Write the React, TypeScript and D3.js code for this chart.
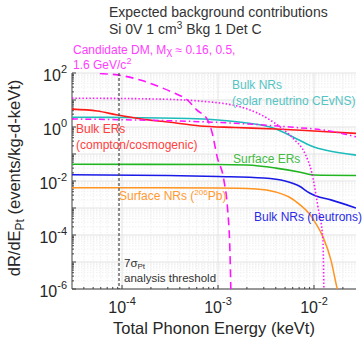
import { useEffect, useRef } from "react";
import * as d3 from "d3";

// energies (keVt) and rates (events/kg-d-keVt)
const bulkERsE = [3e-5, 5.5e-5, 9e-5, 1.6e-4, 3e-4, 6.5e-4, 1.5e-3, 4e-3, 1e-2, 2.74e-2];
const bulkERsR = [4.6, 3.9, 2.78, 1.98, 1.53, 1.09, 0.96, 0.84, 0.71, 0.58];

const solarE = [3e-5, 1e-4, 5e-4, 1e-3, 2e-3, 3.5e-3, 5e-3, 7e-3, 1e-2, 1.3e-2, 2.74e-2];
const solarR = [2.29, 2.26, 2.07, 1.81, 1.41, 1.0, 0.6, 0.33, 0.18, 0.14, 0.091];

const surfERsE = [3e-5, 1e-3, 2e-3, 4e-3, 7e-3, 1e-2, 2.74e-2];
const surfERsR = [0.0416, 0.041, 0.039, 0.03, 0.0216, 0.0166, 0.016];

const neutronE = [3e-5, 3e-4, 1e-3, 3e-3, 5e-3, 7e-3, 9e-3, 1.05e-2, 1.5e-2, 2.74e-2];
const neutronR = [0.0171, 0.016, 0.0147, 0.0129, 0.01, 0.0065, 0.0036, 0.0028, 0.002, 0.001];

const surfNRsE = [3e-5, 1e-3, 2.5e-3, 4e-3, 5.5e-3, 7e-3, 9e-3, 1.05e-2, 1.25e-2, 1.5e-2, 1.75e-2, 2e-2];
const surfNRsR = [0.00565, 0.0055, 0.00505, 0.0039, 0.00255, 0.0014, 6e-4, 2.6e-4, 8e-5, 1.2e-5, 1e-6, 2e-7];

const dmLowE = [4.47e-5, 5.5e-5, 9e-5, 1.55e-4, 2.5e-4, 3.5e-4, 4.8e-4, 6e-4, 7.8e-4, 8.7e-4, 9.8e-4, 1.15e-3, 1.26e-3, 1.33e-3, 1.37e-3];
const dmLowR = [158, 100, 85, 55, 30, 18, 10, 4.3, 1.8, 0.6, 0.078, 0.011, 8.5e-4, 2.8e-5, 3e-7];

const dmMidE = [3e-5, 6.5e-4, 1e-3, 2.5e-3, 5.6e-3, 1.7e-2, 2.74e-2];
const dmMidR = [1.98, 1.57, 1.48, 1.24, 1.0, 0.65, 0.43];

const dmHighE = [3e-5, 1.95e-4, 6.5e-4, 1.9e-3, 3.5e-3, 5.6e-3, 6.3e-3, 8.1e-3, 9.5e-3, 1.1e-2, 1.24e-2, 1.27e-2, 1.3e-2];
const dmHighR = [11.7, 11, 9.1, 5.0, 1.8, 0.5, 0.33, 0.1, 0.02, 1.1e-3, 6.5e-5, 1e-6, 3e-7];

const thresholdE = 9.3e-5;
const xTickExp = [-4, -3, -2];
const yTickExp = [2, 0, -2, -4, -6];

const App = () => {
	const svgRef = useRef<SVGSVGElement>(null);

	useEffect(() => {
		const width = 362;
		const height = 338;
		const left = 72, right = 356, top = 73, bottom = 289;
		const font = "'Liberation Sans', Arial, sans-serif";
		const ink = "#262626";

		const x = d3.scaleLog().domain([3.01e-5, 2.74e-2]).range([left, right]);
		const y = d3.scaleLog().domain([1e-6, 1e2]).range([bottom, top]);
		const isMajor = (d: number) => Math.abs(Math.log10(d) - Math.round(Math.log10(d))) < 1e-6;

		const svg = d3.select(svgRef.current)
			.attr("width", width)
			.attr("height", height)
			.attr("viewBox", [0, 0, width, height].join(" "));
		svg.selectAll("*").remove();

		svg.append("defs").append("clipPath").attr("id", "plot")
			.append("rect").attr("x", left).attr("y", top)
			.attr("width", right - left).attr("height", bottom - top);

		// grid: minor then major
		const grid = svg.append("g");
		const xMinor: number[] = [];
		for (let e = -5; e <= -2; e++) for (let m = 1; m < 10; m++) {
			const v = m * Math.pow(10, e);
			if (v >= 3.01e-5 && v <= 2.74e-2) xMinor.push(v);
		}
		const yMinor: number[] = [];
		for (let e = -6; e < 2; e++) for (let m = 1; m < 10; m++) yMinor.push(m * Math.pow(10, e));
		yMinor.push(100);

		grid.selectAll(".xg").data(xMinor).join("line")
			.attr("x1", (d) => x(d)).attr("x2", (d) => x(d))
			.attr("y1", top).attr("y2", bottom)
			.attr("stroke", (d) => (isMajor(d) ? "#e2e2e2" : "#eeeeee"))
			.attr("stroke-dasharray", (d) => (isMajor(d) ? null : "1.5,1.5"));
		grid.selectAll(".yg").data(yMinor).join("line")
			.attr("y1", (d) => y(d)).attr("y2", (d) => y(d))
			.attr("x1", left).attr("x2", right)
			.attr("stroke", (d) => (isMajor(d) ? "#e2e2e2" : "#eeeeee"))
			.attr("stroke-dasharray", (d) => (isMajor(d) ? null : "1.5,1.5"));

		// axes lines and ticks
		const axes = svg.append("g").attr("stroke", "#404040");
		axes.append("line").attr("x1", left).attr("x2", left).attr("y1", top).attr("y2", bottom);
		axes.append("line").attr("x1", left).attr("x2", right).attr("y1", bottom).attr("y2", bottom);
		axes.selectAll(".xt").data(xMinor).join("line")
			.attr("x1", (d) => x(d)).attr("x2", (d) => x(d))
			.attr("y1", bottom).attr("y2", (d) => bottom - (isMajor(d) ? 4 : 2));
		axes.selectAll(".yt").data(yMinor).join("line")
			.attr("y1", (d) => y(d)).attr("y2", (d) => y(d))
			.attr("x1", left).attr("x2", (d) => left + (isMajor(d) ? 4 : 2));

		// curves
		const line = d3.line<[number, number]>()
			.x((d) => x(d[0])).y((d) => y(d[1]))
			.curve(d3.curveMonotoneX);
		const zipped = (e: number[], r: number[]) => e.map((v, i) => [v, r[i]] as [number, number]);
		const curves = svg.append("g").attr("clip-path", "url(#plot)").attr("fill", "none");

		const series = [
			{ e: surfNRsE, r: surfNRsR, color: "#ff9420", dash: null, w: 1.5 },
			{ e: neutronE, r: neutronR, color: "#1a1ae6", dash: null, w: 1.6 },
			{ e: surfERsE, r: surfERsR, color: "#22b522", dash: null, w: 1.6 },
			{ e: solarE, r: solarR, color: "#1fbcbc", dash: null, w: 1.6 },
			{ e: bulkERsE, r: bulkERsR, color: "#ff1a1a", dash: null, w: 1.6 },
			{ e: dmLowE, r: dmLowR, color: "#ff14ff", dash: "8,5", w: 1.6 },
			{ e: dmMidE, r: dmMidR, color: "#ff14ff", dash: "6,3,1.5,3", w: 1.5 },
			{ e: dmHighE, r: dmHighR, color: "#ff14ff", dash: "1.5,2", w: 1.6 },
		];
		series.forEach((s) => {
			curves.append("path")
				.attr("d", line(zipped(s.e, s.r)))
				.attr("stroke", s.color)
				.attr("stroke-width", s.w)
				.attr("stroke-dasharray", s.dash);
		});

		// analysis threshold
		svg.append("line")
			.attr("x1", x(thresholdE)).attr("x2", x(thresholdE))
			.attr("y1", top).attr("y2", bottom)
			.attr("stroke", "#444").attr("stroke-width", 1.2).attr("stroke-dasharray", "3,2");

		// tick labels
		const tl = svg.append("g").attr("font-family", font).attr("fill", ink);
		yTickExp.forEach((p) => {
			const t = tl.append("text").attr("x", 67).attr("y", y(Math.pow(10, p)) + 8)
				.attr("text-anchor", "end").attr("font-size", 16);
			t.append("tspan").text("10");
			t.append("tspan").attr("dy", -8).attr("font-size", 11).text(String(p));
		});
		xTickExp.forEach((p) => {
			const t = tl.append("text").attr("x", x(Math.pow(10, p))).attr("y", 313)
				.attr("text-anchor", "middle").attr("font-size", 16);
			t.append("tspan").text("10");
			t.append("tspan").attr("dy", -8).attr("font-size", 11).text(String(p));
		});

		// axis titles
		svg.append("text").attr("x", (left + right) / 2).attr("y", 334)
			.attr("text-anchor", "middle").attr("font-family", font).attr("font-size", 16.5)
			.attr("fill", ink).text("Total Phonon Energy (keVt)");
		const yl = svg.append("text").attr("transform", "translate(20,178) rotate(-90)")
			.attr("text-anchor", "middle").attr("font-family", font).attr("font-size", 16.5)
			.attr("fill", ink);
		yl.append("tspan").text("dR/dE");
		yl.append("tspan").attr("dy", 4).attr("font-size", 12).text("Pt");
		yl.append("tspan").attr("dy", -4).text(" (events/kg-d-keVt)");

		// title
		const title = svg.append("g").attr("font-family", font).attr("font-size", 14).attr("fill", "#333");
		title.append("text").attr("x", 109).attr("y", 17).text("Expected background contributions");
		const t2 = title.append("text").attr("x", 109).attr("y", 34);
		t2.append("tspan").text("Si 0V 1 cm");
		t2.append("tspan").attr("dy", -5).attr("font-size", 10).text("3");
		t2.append("tspan").attr("dy", 5).text(" Bkg 1 Det C");

		// annotations
		const ann = svg.append("g").attr("font-family", font).attr("font-size", 12);
		const dm1 = ann.append("text").attr("x", 73).attr("y", 54).attr("fill", "#ff3dff");
		dm1.append("tspan").text("Candidate DM, M");
		dm1.append("tspan").attr("dy", 1).attr("font-size", 11).text("χ");
		dm1.append("tspan").attr("dy", -1).text(" ≈ 0.16, 0.5,");
		const dm2 = ann.append("text").attr("x", 73).attr("y", 69).attr("fill", "#ff3dff");
		dm2.append("tspan").text("1.6 GeV/c");
		dm2.append("tspan").attr("dy", -5).attr("font-size", 9).text("2");

		ann.append("text").attr("x", 232).attr("y", 89).attr("fill", "#55c4c4").text("Bulk NRs");
		ann.append("text").attr("x", 232).attr("y", 105).attr("fill", "#55c4c4").text("(solar neutrino CEvNS)");
		ann.append("text").attr("x", 76).attr("y", 133).attr("fill", "#ff4040").text("Bulk ERs");
		ann.append("text").attr("x", 76).attr("y", 149).attr("fill", "#ff4040").text("(compton/cosmogenic)");
		ann.append("text").attr("x", 233).attr("y", 163).attr("fill", "#44bb44").text("Surface ERs");
		const snr = ann.append("text").attr("x", 119).attr("y", 200).attr("fill", "#ff9a33");
		snr.append("tspan").text("Surface NRs (");
		snr.append("tspan").attr("dy", -5).attr("font-size", 8).text("206");
		snr.append("tspan").attr("dy", 5).text("Pb)");
		ann.append("text").attr("x", 254).attr("y", 221).attr("fill", "#2a2ae6").text("Bulk NRs (neutrons)");

		const th = ann.append("text").attr("x", 124).attr("y", 267).attr("fill", "#333").attr("font-size", 11.5);
		th.append("tspan").text("7σ");
		th.append("tspan").attr("dy", 2).attr("font-size", 8).text("Pt");
		ann.append("text").attr("x", 124).attr("y", 282).attr("fill", "#333").attr("font-size", 11.5).text("analysis threshold");
	}, []);

	return (
		<div style={{ position: "absolute", left: 0, top: 0, width: 362, height: 338, background: "#fff" }}>
			<svg ref={svgRef}></svg>
		</div>
	);
};

export default App;
